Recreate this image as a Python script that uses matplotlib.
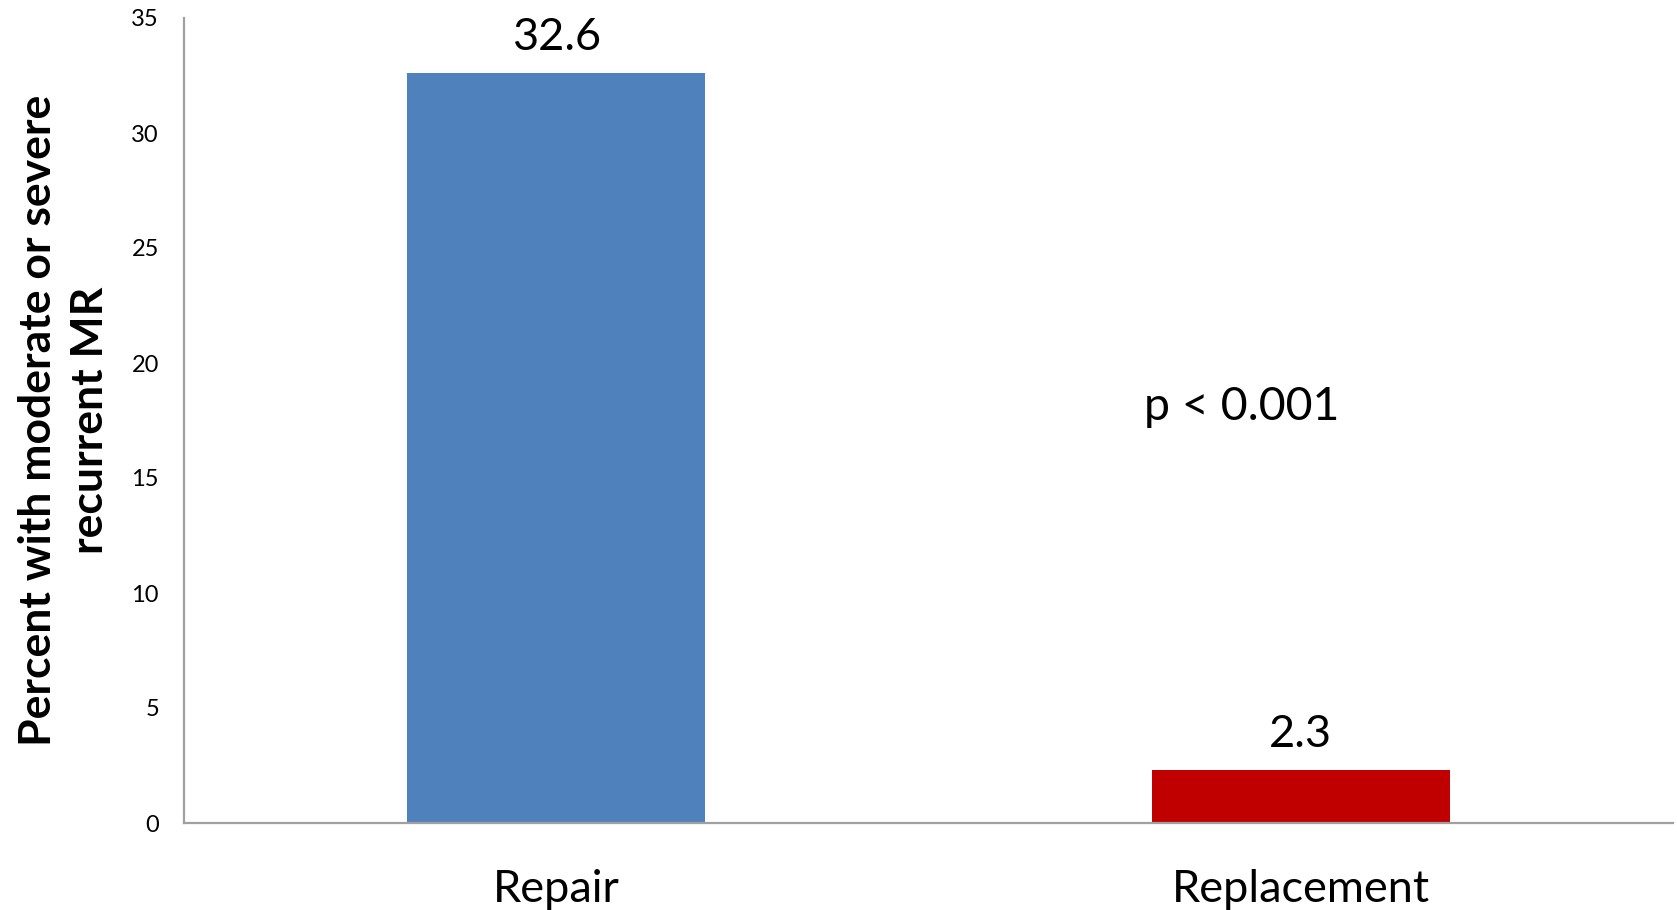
import matplotlib
matplotlib.use("Agg")
import matplotlib.pyplot as plt

# Recurrent mitral regurgitation by surgical strategy
categories = ["Repair", "Replacement"]
percent_mr = [32.6, 2.3]
bar_colors = ["#4F81BD", "#C00000"]
y_ticks = [0, 5, 10, 15, 20, 25, 30, 35]
p_value_text = "p < 0.001"
y_label = "Percent with moderate or severe\nrecurrent MR"

plt.rcParams["font.family"] = ["Lato", "DejaVu Sans"]

W, H, DPI = 1677, 910, 100
fig = plt.figure(figsize=(W / DPI, H / DPI), dpi=DPI)
ax = fig.add_axes([184 / W, 1 - 823 / H, (1673 - 184) / W, (823 - 18) / H])

x = list(range(len(categories)))
ax.bar(x, percent_mr, width=0.4, color=bar_colors, zorder=2)

for xi, v in zip(x, percent_mr):
    ax.annotate(f"{v}", (xi, v), xytext=(0, 25.5), textcoords="offset points",
                ha="center", va="center", fontsize=32.5)

ax.text(0.92, 18.1, p_value_text, ha="center", va="center", fontsize=33.5)

ax.set_xlim(-0.5, 1.5)
ax.set_ylim(0, 35)
ax.set_yticks(y_ticks)
ax.set_xticks(x)
ax.set_xticklabels(categories, fontsize=32.5)
ax.tick_params(axis="y", length=0, pad=18, labelsize=17)
ax.tick_params(axis="x", length=0, pad=33)

for side in ("top", "right"):
    ax.spines[side].set_visible(False)
for side in ("left", "bottom"):
    ax.spines[side].set_color("#A0A0A0")
    ax.spines[side].set_linewidth(1.6)

ax.set_ylabel(y_label, fontsize=32, fontweight="bold", linespacing=1.35,
              va="center", ha="center")
ax.yaxis.set_label_coords(-0.0806, 0.5)

fig.savefig("out.png", dpi=DPI, facecolor="white")
